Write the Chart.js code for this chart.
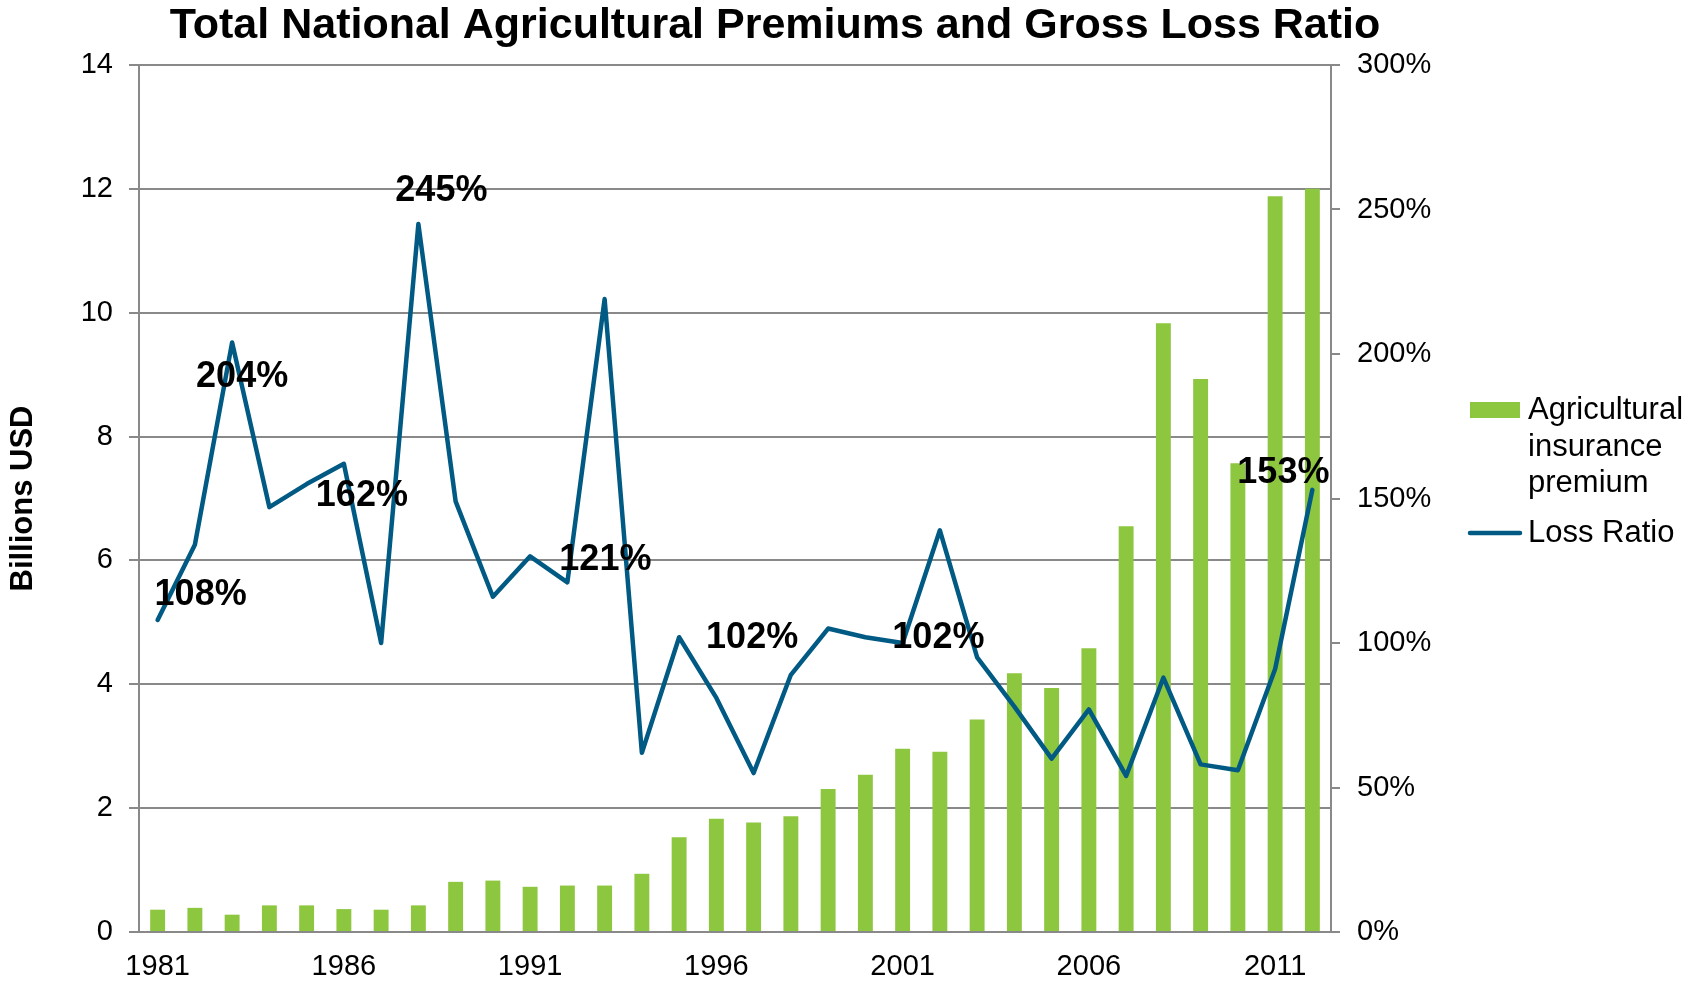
<!DOCTYPE html>
<html>
<head>
<meta charset="utf-8">
<title>Total National Agricultural Premiums and Gross Loss Ratio</title>
<script src="https://cdn.jsdelivr.net/npm/chart.js@4.4.0/dist/chart.umd.min.js"></script>
<style>
  html, body { margin: 0; padding: 0; background: #fff; }
  #wrap { width: 1700px; height: 986px; }
</style>
</head>
<body>
<div id="wrap"><canvas id="chart" width="1700" height="986"></canvas></div>
<script>
// yearly figures
const years = ['1981', '1982', '1983', '1984', '1985', '1986', '1987', '1988',
  '1989', '1990', '1991', '1992', '1993', '1994', '1995', '1996', '1997', '1998',
  '1999', '2000', '2001', '2002', '2003', '2004', '2005', '2006', '2007', '2008',
  '2009', '2010', '2011', '2012'];

// billions USD
const premiums = [0.36, 0.39, 0.28, 0.43, 0.43, 0.37, 0.36, 0.43, 0.81, 0.83,
  0.73, 0.75, 0.75, 0.94, 1.53, 1.83, 1.77, 1.87, 2.31, 2.54, 2.96, 2.91, 3.43,
  4.18, 3.94, 4.58, 6.55, 9.83, 8.93, 7.57, 11.88, 12.0];

// percent
const lossRatio = [108, 134, 204, 147, 155, 162, 100, 245, 149, 116, 130, 121,
  219, 62, 102, 81, 55, 89, 105, 102, 100, 139, 95, 78, 60, 77, 54, 88, 58, 56,
  91, 153];

const premiumTicks = [0, 2, 4, 6, 8, 10, 12, 14];
const ratioTicks = [0, 50, 100, 150, 200, 250, 300];

// where each value label sits relative to its point (px)
const labelOffsets = {
  '1981': [43, -25],
  '1983': [10, 35],
  '1986': [18, 32],
  '1988': [23, -33],
  '1992': [38, -22],
  '1995': [73, 1],
  '2000': [73, 1],
  '2012': [-29, -17]
};

const FONT = '"Liberation Sans", Arial, sans-serif';
const GREEN = '#8dc63f';
const BLUE = '#005a84';
const GRID = '#898989';

const valueLabels = {
  id: 'valueLabels',
  afterDatasetsDraw(chart) {
    const meta = chart.getDatasetMeta(1);
    const ctx = chart.ctx;
    ctx.save();
    ctx.font = 'bold 36px ' + FONT;
    ctx.fillStyle = '#000';
    ctx.textAlign = 'center';
    ctx.textBaseline = 'middle';
    meta.data.forEach((pt, i) => {
      const off = labelOffsets[years[i]];
      if (!off) return;
      ctx.fillText(Math.round(lossRatio[i]) + '%', pt.x + off[0], pt.y + off[1]);
    });
    ctx.restore();
  }
};

// title and the two-entry legend on the right
const decorations = {
  id: 'decorations',
  afterDraw(chart) {
    const ctx = chart.ctx;
    ctx.save();
    ctx.fillStyle = '#000';
    ctx.textBaseline = 'middle';
    ctx.textAlign = 'center';
    ctx.font = 'bold 43px ' + FONT;
    ctx.fillText('Total National Agricultural Premiums and Gross Loss Ratio', 775, 26);

    ctx.fillStyle = GREEN;
    ctx.fillRect(1470, 402, 50, 16);
    ctx.strokeStyle = BLUE;
    ctx.lineWidth = 4.5;
    ctx.lineCap = 'round';
    ctx.beginPath();
    ctx.moveTo(1470, 533);
    ctx.lineTo(1520, 533);
    ctx.stroke();

    ctx.fillStyle = '#000';
    ctx.textAlign = 'left';
    ctx.font = '31px ' + FONT;
    ctx.fillText('Agricultural', 1528, 410);
    ctx.fillText('insurance', 1528, 447);
    ctx.fillText('premium', 1528, 483);
    ctx.fillText('Loss Ratio', 1528, 533);
    ctx.restore();
  }
};

new Chart(document.getElementById('chart'), {
  data: {
    labels: years,
    datasets: [{
      type: 'bar',
      label: 'Agricultural insurance premium',
      data: premiums,
      yAxisID: 'y',
      backgroundColor: GREEN,
      barPercentage: 0.4,
      categoryPercentage: 1.0,
      order: 2
    }, {
      type: 'line',
      label: 'Loss Ratio',
      data: lossRatio,
      yAxisID: 'y1',
      borderColor: BLUE,
      borderWidth: 4.5,
      pointRadius: 0,
      tension: 0,
      borderCapStyle: 'round',
      borderJoinStyle: 'round',
      order: 1
    }]
  },
  plugins: [valueLabels, decorations],
  options: {
    responsive: false,
    animation: false,
    devicePixelRatio: 1,
    layout: { padding: { top: 65, left: 0, right: 0, bottom: 0 } },
    plugins: {
      legend: { display: false },
      title: { display: false },
      tooltip: { enabled: false }
    },
    scales: {
      x: {
        grid: { display: false, drawTicks: false },
        border: { display: true, color: GRID, width: 2 },
        ticks: {
          autoSkip: false,
          maxRotation: 0,
          padding: 18,
          color: '#000',
          font: { family: FONT, size: 29 },
          callback(value, index) {
            return index % 5 === 0 ? this.getLabelForValue(value) : '';
          }
        },
        afterFit(scale) { scale.height = 54; }
      },
      y: {
        position: 'left',
        min: 0,
        max: 14,
        afterBuildTicks(scale) {
          scale.ticks = premiumTicks.map(v => ({ value: v }));
        },
        grid: { color: GRID, lineWidth: 2, tickLength: 10 },
        border: { display: true, color: GRID, width: 2 },
        ticks: {
          padding: 16,
          color: '#000',
          font: { family: FONT, size: 29 }
        },
        title: {
          display: true,
          text: 'Billions USD',
          color: '#000',
          font: { family: FONT, size: 31, weight: 'bold' },
          padding: { top: 5, bottom: 0 }
        },
        afterFit(scale) { scale.width = 139; }
      },
      y1: {
        position: 'right',
        min: 0,
        max: 300,
        afterBuildTicks(scale) {
          scale.ticks = ratioTicks.map(v => ({ value: v }));
        },
        grid: { drawOnChartArea: false, color: GRID, lineWidth: 2, tickLength: 9 },
        border: { display: true, color: GRID, width: 2 },
        ticks: {
          padding: 17,
          color: '#000',
          font: { family: FONT, size: 29 },
          callback: v => v + '%'
        },
        afterFit(scale) { scale.width = 369; }
      }
    }
  }
});
</script>
</body>
</html>
